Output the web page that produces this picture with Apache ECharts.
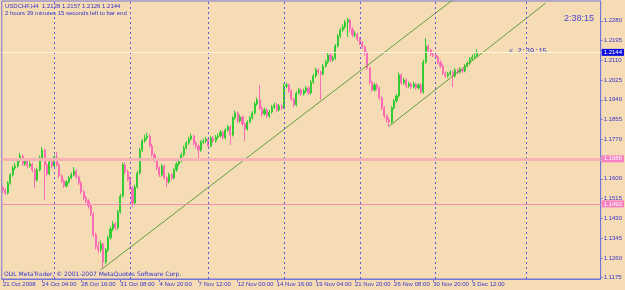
<!DOCTYPE html>
<html><head><meta charset="utf-8">
<script src="https://cdn.jsdelivr.net/npm/echarts@6/dist/echarts.min.js"></script>
<style>html,body{margin:0;padding:0;background:#F6DCB5;}#c{width:625px;height:290px;}</style>
</head><body><div id="c"></div>
<script>
const symbolName = 'USDCHF,H4  1.2128 1.2157 1.2126 1.2144';
const opens = [
1.1562,1.1552,1.1539,1.1582,1.1617,1.1647,1.1655,1.1681,1.1698,1.1664,
1.1677,1.1655,1.1664,1.1638,1.1595,1.1638,1.1690,1.1724,1.1660,1.1621,
1.1672,1.1655,1.1694,1.1660,1.1612,1.1591,1.1569,1.1586,1.1604,1.1617,
1.1634,1.1608,1.1582,1.1543,1.1518,1.1505,1.1483,1.1449,1.1359,1.1307,
1.1294,1.1320,1.1242,1.1294,1.1346,1.1384,1.1406,1.1389,1.1457,1.1526,
1.1660,1.1629,1.1599,1.1561,1.1496,1.1565,1.1625,1.1724,1.1763,1.1776,
1.1784,1.1741,1.1703,1.1681,1.1647,1.1617,1.1655,1.1604,1.1586,1.1617,
1.1604,1.1638,1.1664,1.1677,1.1703,1.1733,1.1754,1.1771,1.1784,1.1754,
1.1741,1.1724,1.1758,1.1763,1.1771,1.1741,1.1776,1.1763,1.1780,1.1784,
1.1801,1.1776,1.1810,1.1823,1.1789,1.1862,1.1883,1.1849,1.1866,1.1836,
1.1814,1.1844,1.1862,1.1883,1.1922,1.1939,1.1905,1.1879,1.1896,1.1870,
1.1887,1.1909,1.1918,1.1896,1.1913,1.1905,1.1999,1.2004,1.1978,1.1943,
1.1918,1.1969,1.1982,1.1965,1.1978,1.1991,1.1969,1.2016,1.2042,1.2068,
1.2059,1.2051,1.2085,1.2102,1.2133,1.2111,1.2120,1.2171,1.2214,1.2240,
1.2253,1.2274,1.2283,1.2244,1.2219,1.2223,1.2201,1.2184,1.2167,1.2145,
1.2077,1.2016,1.1982,1.2004,1.1991,1.1948,1.1905,1.1870,1.1853,1.1844,
1.1905,1.1935,1.1956,1.2047,1.2012,1.2025,1.1999,1.2008,1.1995,1.2008,
1.1991,1.2004,1.1973,1.2102,1.2171,1.2154,1.2137,1.2133,1.2124,1.2102,
1.2085,1.2055,1.2042,1.2051,1.2059,1.2042,1.2068,1.2059,1.2072,1.2064,
1.2085,1.2098,1.2115,1.2124,1.2128];
const closes = [
1.1552,1.1539,1.1582,1.1617,1.1647,1.1655,1.1681,1.1698,1.1664,1.1677,
1.1655,1.1664,1.1638,1.1595,1.1638,1.1690,1.1724,1.1660,1.1621,1.1672,
1.1655,1.1694,1.1660,1.1612,1.1591,1.1569,1.1586,1.1604,1.1617,1.1634,
1.1608,1.1582,1.1543,1.1518,1.1505,1.1483,1.1449,1.1359,1.1307,1.1294,
1.1320,1.1242,1.1294,1.1346,1.1384,1.1406,1.1389,1.1457,1.1526,1.1660,
1.1629,1.1599,1.1561,1.1496,1.1565,1.1625,1.1724,1.1763,1.1776,1.1784,
1.1741,1.1703,1.1681,1.1647,1.1617,1.1655,1.1604,1.1586,1.1617,1.1604,
1.1638,1.1664,1.1677,1.1703,1.1733,1.1754,1.1771,1.1784,1.1754,1.1741,
1.1724,1.1758,1.1763,1.1771,1.1741,1.1776,1.1763,1.1780,1.1784,1.1801,
1.1776,1.1810,1.1823,1.1789,1.1862,1.1883,1.1849,1.1866,1.1836,1.1814,
1.1844,1.1862,1.1883,1.1922,1.1939,1.1905,1.1879,1.1896,1.1870,1.1887,
1.1909,1.1918,1.1896,1.1913,1.1905,1.1999,1.2004,1.1978,1.1943,1.1918,
1.1969,1.1982,1.1965,1.1978,1.1991,1.1969,1.2016,1.2042,1.2068,1.2059,
1.2051,1.2085,1.2102,1.2133,1.2111,1.2120,1.2171,1.2214,1.2240,1.2253,
1.2274,1.2283,1.2244,1.2219,1.2223,1.2201,1.2184,1.2167,1.2145,1.2077,
1.2016,1.1982,1.2004,1.1991,1.1948,1.1905,1.1870,1.1853,1.1844,1.1905,
1.1935,1.1956,1.2047,1.2012,1.2025,1.1999,1.2008,1.1995,1.2008,1.1991,
1.2004,1.1973,1.2102,1.2171,1.2154,1.2137,1.2133,1.2124,1.2102,1.2085,
1.2055,1.2042,1.2051,1.2059,1.2042,1.2068,1.2059,1.2072,1.2064,1.2085,
1.2098,1.2115,1.2124,1.2128,1.2144];
const highs = [
1.1571,1.1560,1.1590,1.1625,1.1656,1.1668,1.1690,1.1712,1.1705,1.1686,
1.1684,1.1675,1.1670,1.1645,1.1648,1.1700,1.1737,1.1730,1.1668,1.1680,
1.1683,1.1703,1.1715,1.1668,1.1620,1.1598,1.1595,1.1612,1.1628,1.1651,
1.1640,1.1615,1.1590,1.1552,1.1527,1.1512,1.1490,1.1455,1.1368,1.1330,
1.1335,1.1326,1.1302,1.1355,1.1395,1.1418,1.1415,1.1466,1.1535,1.1670,
1.1672,1.1640,1.1610,1.1568,1.1575,1.1635,1.1733,1.1772,1.1790,1.1798,
1.1792,1.1750,1.1712,1.1690,1.1655,1.1664,1.1662,1.1612,1.1626,1.1625,
1.1646,1.1672,1.1688,1.1712,1.1742,1.1762,1.1780,1.1795,1.1790,1.1762,
1.1748,1.1766,1.1772,1.1780,1.1778,1.1785,1.1784,1.1789,1.1795,1.1810,
1.1808,1.1818,1.1832,1.1830,1.1870,1.1893,1.1890,1.1876,1.1872,1.1842,
1.1852,1.1870,1.1892,1.1931,1.1950,1.2004,1.1912,1.1905,1.1903,1.1896,
1.1918,1.1928,1.1925,1.1922,1.1920,1.2010,1.2013,1.2010,1.1985,1.1950,
1.1977,1.1992,1.1990,1.1987,1.2000,1.1998,1.2025,1.2052,1.2078,1.2075,
1.2066,1.2094,1.2112,1.2142,1.2140,1.2130,1.2180,1.2223,1.2250,1.2265,
1.2283,1.2292,1.2288,1.2252,1.2235,1.2230,1.2210,1.2192,1.2175,1.2150,
1.2083,1.2022,1.2014,1.2012,1.1998,1.1955,1.1912,1.1878,1.1862,1.1912,
1.1943,1.1965,1.2057,1.2053,1.2035,1.2032,1.2018,1.2015,1.2017,1.2014,
1.2012,1.2010,1.2112,1.2206,1.2178,1.2160,1.2145,1.2140,1.2130,1.2110,
1.2092,1.2062,1.2060,1.2068,1.2066,1.2077,1.2075,1.2080,1.2079,1.2093,
1.2106,1.2124,1.2135,1.2140,1.2157];
const lows = [
1.1540,1.1530,1.1533,1.1575,1.1610,1.1638,1.1648,1.1672,1.1655,1.1656,
1.1645,1.1648,1.1628,1.1561,1.1588,1.1632,1.1684,1.1510,1.1610,1.1615,
1.1645,1.1648,1.1652,1.1603,1.1582,1.1560,1.1562,1.1580,1.1598,1.1610,
1.1600,1.1572,1.1535,1.1508,1.1495,1.1472,1.1440,1.1348,1.1296,1.1280,
1.1285,1.1217,1.1232,1.1285,1.1338,1.1375,1.1378,1.1382,1.1450,1.1520,
1.1618,1.1590,1.1552,1.1480,1.1490,1.1558,1.1618,1.1715,1.1755,1.1768,
1.1735,1.1695,1.1672,1.1638,1.1608,1.1610,1.1596,1.1565,1.1580,1.1595,
1.1598,1.1630,1.1656,1.1670,1.1695,1.1726,1.1746,1.1765,1.1745,1.1732,
1.1680,1.1716,1.1750,1.1754,1.1732,1.1735,1.1755,1.1756,1.1772,1.1778,
1.1768,1.1770,1.1802,1.1746,1.1782,1.1855,1.1840,1.1842,1.1826,1.1762,
1.1808,1.1838,1.1855,1.1876,1.1915,1.1896,1.1866,1.1872,1.1860,1.1862,
1.1880,1.1900,1.1888,1.1889,1.1896,1.1900,1.1990,1.1970,1.1935,1.1908,
1.1912,1.1962,1.1956,1.1958,1.1970,1.1960,1.1962,1.2008,1.2035,1.2050,
1.1940,1.2045,1.2078,1.2095,1.2102,1.2104,1.2112,1.2165,1.2205,1.2232,
1.2245,1.2210,1.2230,1.2210,1.2208,1.2192,1.2175,1.2158,1.2130,1.2068,
1.2005,1.1975,1.1975,1.1980,1.1938,1.1895,1.1860,1.1842,1.1823,1.1838,
1.1898,1.1928,1.1950,1.2004,1.2005,1.1990,1.1992,1.1986,1.1988,1.1982,
1.1985,1.1965,1.1966,1.2095,1.2145,1.2128,1.2124,1.2115,1.2093,1.2076,
1.2046,1.2034,1.2035,1.2044,1.1995,1.2036,1.2050,1.2052,1.2056,1.2058,
1.2078,1.2090,1.2108,1.2116,1.2126];
const xTickLabels = ['21 Oct 2008','24 Oct 04:00','28 Oct 16:00','31 Oct 08:00','4 Nov 20:00','7 Nov 12:00','12 Nov 00:00','14 Nov 16:00','19 Nov 04:00','21 Nov 20:00','26 Nov 08:00','30 Nov 20:00','3 Dec 12:00'];
const barsPerLabel = 16;
const slotCount = 245;
const yTicks = [1.1175,1.1260,1.1345,1.1430,1.1515,1.1600,1.1685,1.1770,1.1855,1.1940,1.2025,1.2110,1.2195,1.2280];
const separators = [21,52,84,115,146,177,214];
const levelUpper = 1.1686;
const levelLower = 1.1492;
const bidPrice = 1.2144;
const trendA = [[40,1.1208],[185,1.2378]];
const trendB = [[158,1.1827],[222,1.2356]];

const TXT = '#3434c8';
const FRAME = '#7575d6';
const categories = Array.from({length: slotCount}, (_, i) => String(i));
const candles = opens.map((o, i) => [o, closes[i], lows[i], highs[i]]);
const isLabel = (i) => i % barsPerLabel === 0 && i / barsPerLabel < xTickLabels.length;

const chart = echarts.init(document.getElementById('c'), null, {renderer: 'canvas'});
chart.setOption({
  animation: false,
  backgroundColor: '#F6DCB5',
  grid: {left: 1, right: 23, top: 1, bottom: 11, show: true, borderColor: FRAME, borderWidth: 1, backgroundColor: 'transparent'},
  xAxis: {
    type: 'category', data: categories, boundaryGap: true,
    axisLine: {show: true, lineStyle: {color: FRAME, width: 1}},
    axisTick: {show: true, alignWithLabel: true, interval: (i) => isLabel(i), length: 3, lineStyle: {color: FRAME}},
    axisLabel: {show: true, interval: (i) => isLabel(i), formatter: (v, i) => xTickLabels[i / barsPerLabel] || '',
      align: 'left', margin: 2, fontSize: 6, fontFamily: 'Liberation Sans', color: TXT},
    splitLine: {show: false}
  },
  yAxis: {
    type: 'value', position: 'right', min: 1.1169, max: 1.2365, scale: true,
    axisLine: {show: true, lineStyle: {color: FRAME, width: 1}},
    axisTick: {show: true, customValues: yTicks, length: 2, lineStyle: {color: FRAME}},
    axisLabel: {show: true, customValues: yTicks, formatter: (v) => v.toFixed(4), margin: 3,
      fontSize: 6, fontFamily: 'Liberation Sans', color: TXT},
    splitLine: {show: false}
  },
  series: [
    {
      type: 'candlestick', data: candles, barWidth: 1.6,
      itemStyle: {color: '#34cc34', color0: '#fb6cb4', borderColor: '#34cc34', borderColor0: '#fb6cb4', borderWidth: 1},
      markLine: {
        silent: true, symbol: ['none', 'none'], animation: false, precision: 4,
        data: [
          ...separators.map(s => ({xAxis: s, lineStyle: {color: '#5a5ae0', type: [2, 3], width: 1}, label: {show: false}})),
          {yAxis: levelUpper, lineStyle: {color: '#f7b2b4', type: 'solid', width: 3},
            label: {show: true, position: 'end', distance: 1, formatter: levelUpper.toFixed(4), backgroundColor: '#f57fbf', color: '#ffffff', padding: [1, 2, 0, 2], fontSize: 6, fontFamily: 'Liberation Sans'}},
          {yAxis: levelLower, lineStyle: {color: '#f58fb4', type: 'solid', width: 1.2},
            label: {show: true, position: 'end', distance: 1, formatter: levelLower.toFixed(4), backgroundColor: '#f57fbf', color: '#ffffff', padding: [1, 2, 0, 2], fontSize: 6, fontFamily: 'Liberation Sans'}},
          {yAxis: bidPrice, lineStyle: {color: '#fff6dc', type: 'solid', width: 1},
            label: {show: true, position: 'end', distance: 1, formatter: bidPrice.toFixed(4), backgroundColor: '#0b0bdc', color: '#ffffff', padding: [1, 2, 0, 2], fontSize: 6, fontFamily: 'Liberation Sans'}}
        ]
      }
    },
    {type: 'line', data: trendA, showSymbol: false, clip: true, silent: true, lineStyle: {color: '#5f9f3a', width: 1}},
    {type: 'line', data: trendB, showSymbol: false, clip: true, silent: true, lineStyle: {color: '#5f9f3a', width: 1}}
  ],
  graphic: [
    {type: 'text', left: 5, top: 3, silent: true, style: {text: symbolName, fill: TXT, font: '6px "Liberation Sans"'}},
    {type: 'text', left: 5, top: 10, silent: true, style: {text: '2 hours 39 minutes 15 seconds left to bar end', fill: TXT, font: '6px "Liberation Sans"'}},
    {type: 'text', left: 4, top: 271, silent: true, style: {text: 'ODL MetaTrader, \u00A9 2001-2007 MetaQuotes Software Corp.', fill: TXT, font: '6px "DejaVu Sans"'}},
    {type: 'text', left: 564, top: 14, silent: true, style: {text: '2:38:15', fill: '#4a4ad0', font: '9px "Liberation Sans"'}},
    {type: 'text', left: 509, top: 48, silent: true, style: {text: '< 2:39:15', fill: TXT, font: '7px "Liberation Mono"'}}
  ]
});
</script>
</body></html>
